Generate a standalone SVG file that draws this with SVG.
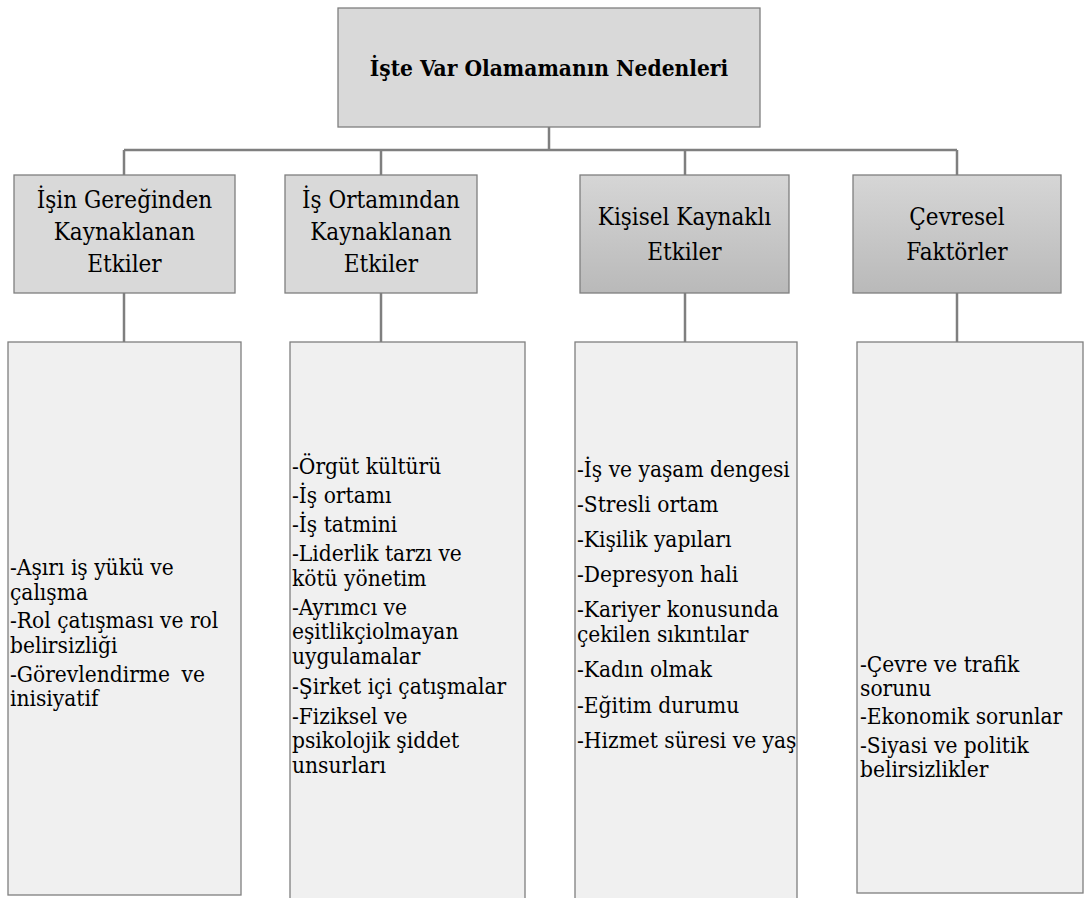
<svg xmlns="http://www.w3.org/2000/svg" width="1085" height="898" viewBox="0 0 1085 898">
<defs>
<linearGradient id="g" x1="0" y1="0" x2="0" y2="1">
<stop offset="0" stop-color="#d6d6d6"/>
<stop offset="1" stop-color="#b9b9b9"/>
</linearGradient>
<style>
.b{stroke:#7f7f7f;stroke-width:1.3}
.f1{fill:#d9d9d9}
.f2{fill:url(#g)}
.f3{fill:#f0f0f0}
.t{font-size:22.5px;font-weight:bold;text-anchor:middle}
.h{font-size:24px;text-anchor:middle}
.l{font-size:22.5px}
.c{stroke:#7f7f7f;stroke-width:2.5;fill:none}
</style>
</defs>
<g id="connectors">
<path class="c" d="M549 127V150M124 150H957M124 150V175M381 150V175M685 150V175M957 150V175"/>
<path class="c" d="M124 293V342M381 293V342M685 293V342M957 293V342"/>
</g>
<g fill="#000" style="font-family:'DejaVu Serif Condensed','DejaVu Serif',serif;font-stretch:condensed">
<g id="root">
<rect class="b f1" x="338" y="8" width="422" height="119"/>
<text class="t" x="549" y="76">İşte Var Olamamanın Nedenleri</text>
</g>
<g id="n1">
<rect class="b f1" x="14" y="175" width="221" height="118"/>
<text class="h" x="124.5" y="208">İşin Gereğinden</text>
<text class="h" x="124.5" y="240">Kaynaklanan</text>
<text class="h" x="124.5" y="272">Etkiler</text>
</g>
<g id="n2">
<rect class="b f1" x="285" y="175" width="192" height="118"/>
<text class="h" x="381" y="208">İş Ortamından</text>
<text class="h" x="381" y="240">Kaynaklanan</text>
<text class="h" x="381" y="272">Etkiler</text>
</g>
<g id="n3">
<rect class="b f2" x="580" y="175" width="209" height="118"/>
<text class="h" x="684.5" y="225">Kişisel Kaynaklı</text>
<text class="h" x="684.5" y="260">Etkiler</text>
</g>
<g id="n4">
<rect class="b f2" x="853" y="175" width="208" height="118"/>
<text class="h" x="957" y="225">Çevresel</text>
<text class="h" x="957" y="260">Faktörler</text>
</g>
<g id="d1">
<rect class="b f3" x="8" y="342" width="233" height="553"/>
<text class="l">
<tspan x="10" y="575">-Aşırı iş yükü ve</tspan>
<tspan x="10" y="600">çalışma</tspan>
<tspan x="10" y="628">-Rol çatışması ve rol</tspan>
<tspan x="10" y="653">belirsizliği</tspan>
<tspan x="10" y="682" word-spacing="5">-Görevlendirme ve</tspan>
<tspan x="10" y="706">inisiyatif</tspan>
</text>
</g>
<g id="d2">
<rect class="b f3" x="290" y="342" width="235" height="570"/>
<text class="l">
<tspan x="292" y="474">-Örgüt kültürü</tspan>
<tspan x="292" y="503">-İş ortamı</tspan>
<tspan x="292" y="532">-İş tatmini</tspan>
<tspan x="292" y="561">-Liderlik tarzı ve</tspan>
<tspan x="292" y="586">kötü yönetim</tspan>
<tspan x="292" y="615">-Ayrımcı ve</tspan>
<tspan x="292" y="639">eşitlikçiolmayan</tspan>
<tspan x="292" y="664">uygulamalar</tspan>
<tspan x="292" y="694">-Şirket içi çatışmalar</tspan>
<tspan x="292" y="724">-Fiziksel ve</tspan>
<tspan x="292" y="748">psikolojik şiddet</tspan>
<tspan x="292" y="773">unsurları</tspan>
</text>
</g>
<g id="d3">
<rect class="b f3" x="575" y="342" width="222" height="570"/>
<text class="l">
<tspan x="577" y="477">-İş ve yaşam dengesi</tspan>
<tspan x="577" y="512">-Stresli ortam</tspan>
<tspan x="577" y="547">-Kişilik yapıları</tspan>
<tspan x="577" y="582">-Depresyon hali</tspan>
<tspan x="577" y="617">-Kariyer konusunda</tspan>
<tspan x="577" y="642">çekilen sıkıntılar</tspan>
<tspan x="577" y="677">-Kadın olmak</tspan>
<tspan x="577" y="713">-Eğitim durumu</tspan>
<tspan x="577" y="748">-Hizmet süresi ve yaş</tspan>
</text>
</g>
<g id="d4">
<rect class="b f3" x="857" y="342" width="226" height="551"/>
<text class="l">
<tspan x="860" y="672">-Çevre ve trafik</tspan>
<tspan x="860" y="696">sorunu</tspan>
<tspan x="860" y="724">-Ekonomik sorunlar</tspan>
<tspan x="860" y="753">-Siyasi ve politik</tspan>
<tspan x="860" y="777">belirsizlikler</tspan>
</text>
</g>
</g>
</svg>
